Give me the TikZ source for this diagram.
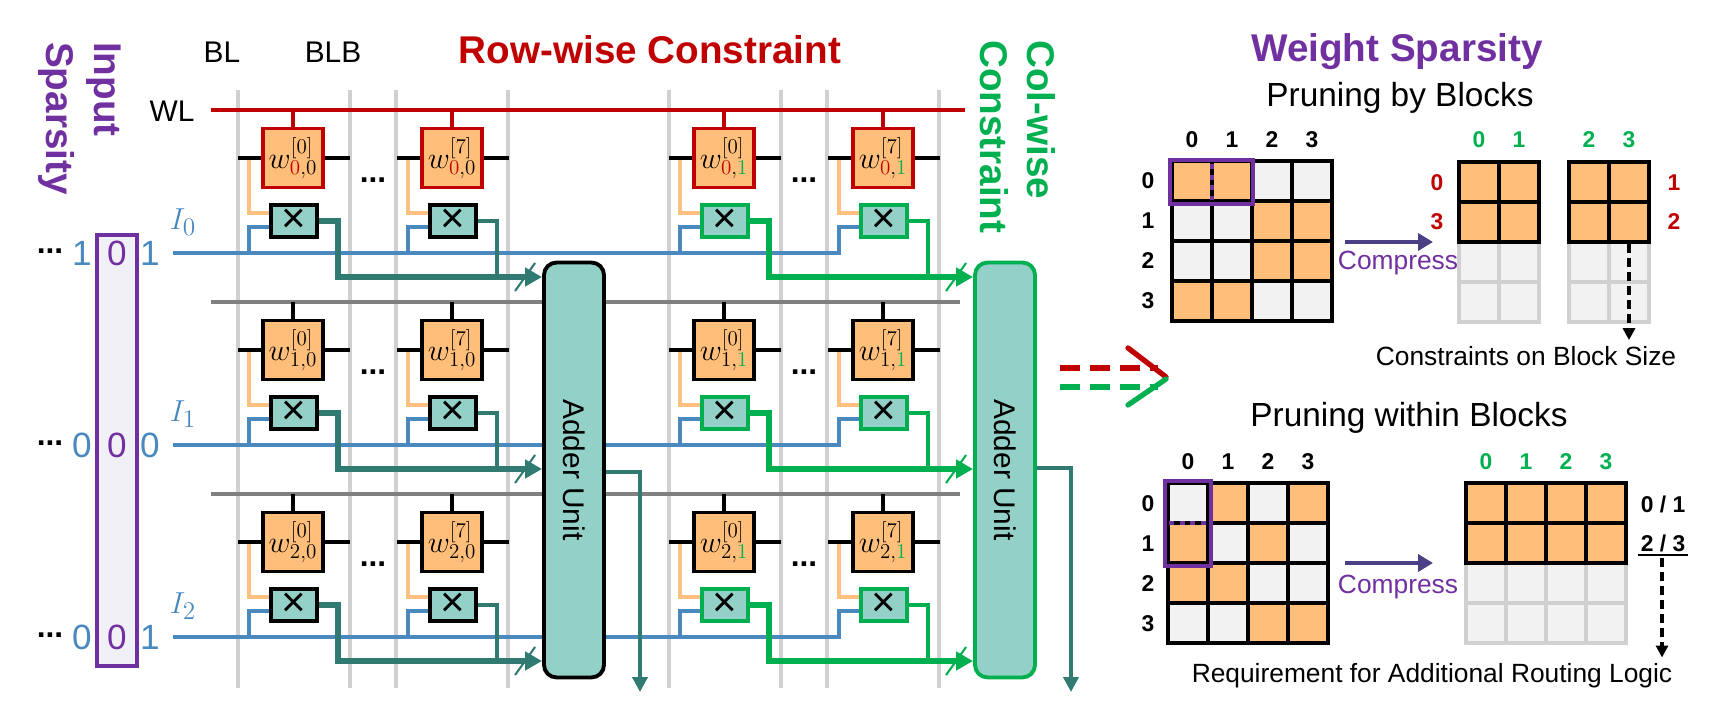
\documentclass[tikz,border=0pt]{standalone}
\usepackage{fontspec}
\setmainfont{Liberation Sans}
\usetikzlibrary{arrows.meta,calc}
\definecolor{cred}{HTML}{C00000}
\definecolor{cgreen}{HTML}{00B050}
\definecolor{cpurple}{HTML}{7030A0}
\definecolor{cblue}{HTML}{4A89BE}
\definecolor{cteal}{HTML}{317A72}
\definecolor{cmult}{HTML}{92D0C8}
\definecolor{corange}{HTML}{FFBF7A}
\definecolor{cwire}{HTML}{FFC080}
\definecolor{cbl}{HTML}{D0D0D0}
\definecolor{csep}{HTML}{808080}
\definecolor{cempty}{HTML}{F2F2F2}
\definecolor{carrow}{HTML}{4B4085}
\definecolor{clav}{HTML}{F2F0F7}

\tikzset{
  wbox/.style={draw, line width=2.2pt, fill=corange, minimum width=1.2cm, minimum height=1.18cm, inner sep=0pt,
    font=\fontsize{18}{20}\selectfont},
  mbox/.style={draw, line width=2.2pt, fill=cmult, minimum width=0.92cm, minimum height=0.64cm, inner sep=0pt,
    font=\fontsize{24}{24}\selectfont},
  adder/.style={draw, line width=2.2pt, fill=cmult, rounded corners=0.25cm, minimum width=1.2cm, minimum height=8.3cm,
    inner sep=0pt},
  bitline/.style={cbl, line width=2.2pt},
  stub/.style={black, line width=2.2pt},
  orwire/.style={cwire, line width=2pt},
  inwire/.style={cblue, line width=2.4pt},
  sumarrow/.style={line width=3.2pt, -{Triangle[length=0.34cm,width=0.36cm]}},
  outwire/.style={line width=2.6pt},
  mcell/.style={draw=black, line width=2.4pt, fill=#1},
  ecell/.style={draw=cbl, line width=2.4pt, fill=cempty},
  mnum/.style={font=\fontsize{13}{15}\selectfont\bfseries},
  title/.style={font=\fontsize{22}{27}\selectfont\bfseries},
  subtitle/.style={font=\fontsize{19}{23}\selectfont},
  note/.style={font=\fontsize{15}{18}\selectfont},
  compress/.style={carrow, line width=2.6pt, -{Triangle[length=0.3cm,width=0.34cm]}},
  digit/.style={font=\fontsize{20}{24}\selectfont, cblue},
}

\begin{document}
\begin{tikzpicture}[x=0.02cm, y=-0.02cm]
\useasboundingbox (0,0) rectangle (1731,726);

% bit lines and row separators
\foreach \bx in {238,350,396,508,669,781,827,939}
  \draw[bitline] (\bx,90) -- (\bx,688);
\foreach \sy in {302,494}
  \draw[csep, line width=2.2pt] (211,\sy) -- (960,\sy);
\draw[cred, line width=2.4pt] (211,110) -- (965,110);

% titles
\node[font=\fontsize{17}{20}\selectfont] (bl) at (222,52) {BL};
\node[font=\fontsize{17}{20}\selectfont] (blb) at (333,52) {BLB};
\node[font=\fontsize{17}{20}\selectfont] (wl) at (172,111) {WL};
\node[title, cred] (rowc) at (650,50) {Row-wise Constraint};
\node[title, cgreen, rotate=-90, anchor=west, align=left] (colc) at (1018,34) {Col-wise\\Constraint};
\node[title, cpurple, rotate=-90, anchor=west, align=left] (insp) at (80,36) {Input\\Sparsity};

% input vector
\draw[cpurple, line width=2.4pt, fill=clav] (97,235) rectangle (137,666);
\foreach \r/\a/\c in {0/1/1,1/0/0,2/0/1}{
  \pgfmathtruncatemacro{\iy}{253+192*\r}
  \node[font=\fontsize{18}{20}\selectfont\bfseries] (dots\r) at (50,\iy-2) {...};
  \node[digit] (da\r) at (82,\iy) {\a};
  \node[digit, cpurple] (db\r) at (117,\iy) {0};
  \node[digit] (dc\r) at (150,\iy) {\c};
  \node[cblue, font=\fontsize{19}{21}\selectfont] (I\r) at (183,\iy-31) {$I_{\r}$};
  \coordinate (is\r) at (173,\iy);
  \coordinate (ie\r) at (841,\iy);
  \draw[inwire] (is\r) -- (ie\r);
}

% adder units
\node[adder] (add0) at (574,470) {};
\node[adder, draw=cgreen] (add1) at (1005,470) {};
\node[rotate=-90, font=\fontsize{17}{20}\selectfont] at (add0) {Adder Unit};
\node[rotate=-90, font=\fontsize{17}{20}\selectfont] at (add1) {Adder Unit};

% cells
\foreach \b/\bx/\bc/\ac in {0/293/black/cteal,1/724/cgreen/cgreen}{
  \foreach \r in {0,1,2}{
    \pgfmathtruncatemacro{\cy}{158+192*\r}
    \foreach \k/\kk/\s in {0/0/0,1/159/7}{
      \pgfmathtruncatemacro{\cx}{\bx+\kk}
      \ifnum\r=0 \def\wc{cred}\def\ri{\textcolor{cred}{0}}\else\def\wc{black}\def\ri{\r}\fi
      \ifnum\b=1 \def\ci{\textcolor{cgreen}{1}}\else\def\ci{0}\fi
      \node[wbox, draw=\wc] (w-\b-\r-\k) at (\cx,\cy) {$w^{[\s]}_{\ri,\ci}$};
      \node[mbox, draw=\bc] (m-\b-\r-\k) at (\cx+1,\cy+63) {×};
      \draw[stub] (\cx-55,\cy) -- (w-\b-\r-\k.west);
      \draw[stub] (w-\b-\r-\k.east) -- (\cx+57,\cy);
      \ifnum\r=0
        \draw[cred, line width=2.2pt] (w-\b-\r-\k.north |- wl) -- (w-\b-\r-\k.north);
      \else
        \draw[stub] (\cx,\cy-48) -- (w-\b-\r-\k.north);
      \fi
      \draw[orwire] (\cx-44,\cy+2) |- ([yshift=0.16cm]m-\b-\r-\k.west);
      \draw[inwire] (\cx-44,\cy+95) |- ([yshift=-0.12cm]m-\b-\r-\k.west);
      \coordinate (j-\b-\r-\k) at (\cx+45,\cy+119);
    }
    \node[font=\fontsize{18}{20}\selectfont\bfseries] at (\bx+80,\cy+22) {...};
    \draw[\ac, line width=2.2pt] (m-\b-\r-1.east) -| (j-\b-\r-1);
    \draw[\ac, sumarrow] (m-\b-\r-0.east) -| (j-\b-\r-0) -- (add\b.west |- j-\b-\r-0);
    \draw[\ac, line width=1.2pt] ([shift={(-10,14)}]add\b.west |- j-\b-\r-0) ++(-17,0) -- ++(20,-28);
  }
}

% adder outputs
\coordinate (o0) at (640,692);
\coordinate (o1) at (1071,692);
\draw[cteal, outwire, -{Triangle[length=0.3cm,width=0.3cm]}] (add0.east |- 0,472) -| (o0);
\draw[cteal, outwire, -{Triangle[length=0.3cm,width=0.3cm]}] (add1.east |- 0,468) -| (o1);

% transfer arrows
\coordinate (ra) at (1060,368); \coordinate (rb) at (1158,368);
\coordinate (ga) at (1060,387); \coordinate (gb) at (1158,387);
\draw[cred, line width=3pt, dash pattern=on 0.4cm off 0.2cm] (ra) -- (rb);
\draw[cgreen, line width=3pt, dash pattern=on 0.4cm off 0.2cm] (ga) -- (gb);
\draw[cred, line width=3pt, line cap=round] (1128,348) -- (1166,377);
\draw[cgreen, line width=3pt, line cap=round] (1128,405) -- (1166,379);

% weight sparsity
\node[title, cpurple] (ws) at (1397,52) {Weight Sparsity};
\node[subtitle] (pbb) at (1400,98) {Pruning by Blocks};
\node[subtitle] (pwb) at (1409,418) {Pruning within Blocks};

% matrix by blocks
\foreach \c/\rr/\f in {0/0/corange,1/0/corange,2/0/cempty,3/0/cempty,
                       0/1/cempty,1/1/cempty,2/1/corange,3/1/corange,
                       0/2/cempty,1/2/cempty,2/2/corange,3/2/corange,
                       0/3/corange,1/3/corange,2/3/cempty,3/3/cempty}
  \draw[mcell=\f] (1172+40*\c,161+40*\rr) rectangle ++(40,40);
\foreach \i in {0,...,3}{
  \node[mnum] at (1192+40*\i,140) {\i};
  \node[mnum] at (1148,181+40*\i) {\i};
}
\draw[cpurple, line width=2.6pt] (1170,160) rectangle (1253,204);
\draw[cpurple, line width=2pt, dash pattern=on 3pt off 3pt] (1212,164) -- (1212,200);
\coordinate (ca) at (1345,242); \coordinate (cb) at (1433,242);
\draw[compress] (ca) -- (cb);
\node[cpurple, font=\fontsize{15}{18}\selectfont] at (1398,263) {Compress};

% compressed blocks
\foreach \ox/\ca/\cb/\ra/\rb/\rx in {1459/0/1/0/3/1437,1569/2/3/1/2/1674}{
  \foreach \c in {0,1}{
    \foreach \rr in {2,3} \draw[ecell] (\ox+40*\c,162+40*\rr) rectangle ++(40,40);
    \foreach \rr in {0,1} \draw[mcell=corange] (\ox+40*\c,162+40*\rr) rectangle ++(40,40);
  }
  \node[mnum, cgreen] at (\ox+20,140) {\ca};
  \node[mnum, cgreen] at (\ox+60,140) {\cb};
  \node[mnum, cred] at (\rx,183) {\ra};
  \node[mnum, cred] at (\rx,222) {\rb};
}
\node[note] (cbs) at (1526,356) {Constraints on Block Size};
\coordinate (da) at (1629,244);
\draw[line width=1.9pt, dash pattern=on 5pt off 3pt, -{Triangle[length=0.24cm,width=0.24cm]}] (da) -- (cbs.north -| da);

% matrix within blocks
\foreach \c/\rr/\f in {0/0/cempty,1/0/corange,2/0/cempty,3/0/corange,
                       0/1/corange,1/1/cempty,2/1/corange,3/1/cempty,
                       0/2/corange,1/2/corange,2/2/cempty,3/2/cempty,
                       0/3/cempty,1/3/cempty,2/3/corange,3/3/corange}
  \draw[mcell=\f] (1168+40*\c,483+40*\rr) rectangle ++(40,40);
\foreach \i in {0,...,3}{
  \node[mnum] at (1188+40*\i,462) {\i};
  \node[mnum] at (1148,504+40*\i) {\i};
}
\draw[cpurple, line width=2.6pt] (1165,481) rectangle (1211,566);
\draw[cpurple, line width=2pt, dash pattern=on 3pt off 3pt] (1169,523) -- (1207,523);
\coordinate (cc) at (1345,563); \coordinate (cd) at (1433,563);
\draw[compress] (cc) -- (cd);
\node[cpurple, font=\fontsize{15}{18}\selectfont] at (1398,587) {Compress};

\foreach \c in {0,...,3}{
  \foreach \rr in {2,3} \draw[ecell] (1466+40*\c,483+40*\rr) rectangle ++(40,40);
  \foreach \rr in {0,1} \draw[mcell=corange] (1466+40*\c,483+40*\rr) rectangle ++(40,40);
  \node[mnum, cgreen] at (1486+40*\c,462) {\c};
}
\node[mnum] (r01) at (1663,504) {0 / 1};
\node[mnum] (r23) at (1663,543) {2 / 3};
\draw[line width=1.2pt] (1638,555) -- (1688,555);
\node[note] (rar) at (1432,676) {Requirement for Additional Routing Logic};
\coordinate (db) at (1662,558);
\draw[line width=1.9pt, dash pattern=on 5pt off 3pt, -{Triangle[length=0.24cm,width=0.24cm]}] (db) -- (rar.north -| db);
\end{tikzpicture}
\end{document}
